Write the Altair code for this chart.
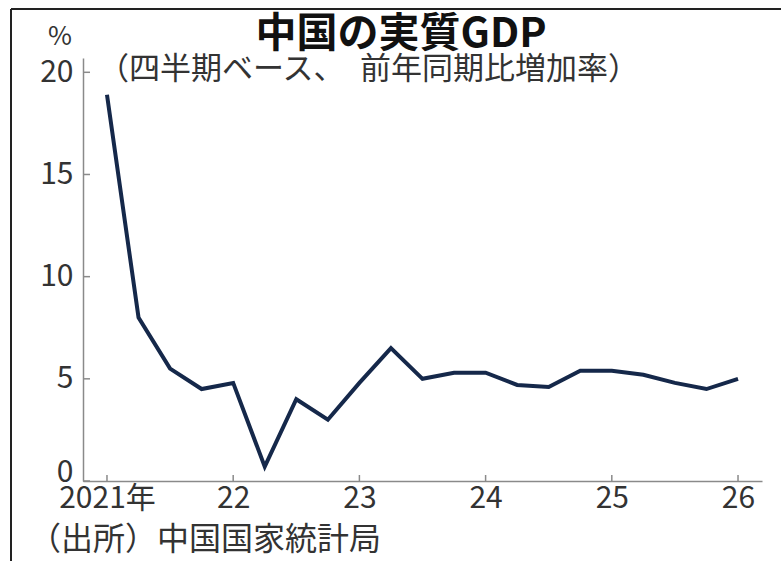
import altair as alt
import pandas as pd

# ---- data ----
quarters = ["2021Q1", "2021Q2", "2021Q3", "2021Q4",
            "2022Q1", "2022Q2", "2022Q3", "2022Q4",
            "2023Q1", "2023Q2", "2023Q3", "2023Q4",
            "2024Q1", "2024Q2", "2024Q3", "2024Q4",
            "2025Q1", "2025Q2", "2025Q3", "2025Q4",
            "2026Q1"]
growth = [18.9, 8.0, 5.5, 4.5,
          4.8, 0.7, 4.0, 3.0,
          4.8, 6.5, 5.0, 5.3,
          5.3, 4.7, 4.6, 5.4,
          5.4, 5.2, 4.8, 4.5,
          5.0]
x_ticks = [2021, 2022, 2023, 2024, 2025, 2026]
y_ticks = [0, 5, 10, 15, 20]

TITLE = "中国の実質GDP"
SUBTITLE = "（四半期ベース、　前年同期比増加率）"
UNIT = "%"
SOURCE = "（出所）中国国家統計局"

df = pd.DataFrame({"quarter": quarters, "growth": growth})
df["t"] = df["quarter"].str[:4].astype(int) + (df["quarter"].str[-1].astype(int) - 1) / 4

FONT = "Noto Sans CJK JP"
W, H = 679, 423
AXIS_COLOR = "#8a8a8a"
LABEL_COLOR = "#333333"

xs = alt.Scale(domain=[2020.81, 2026.19], nice=False, zero=False)
ys = alt.Scale(domain=[0, 20.7], nice=False)

line = alt.Chart(df).mark_line(color="#15284a", strokeWidth=4).encode(
    x=alt.X("t:Q", scale=xs, title=None,
            axis=alt.Axis(values=x_ticks, ticks=False, grid=False,
                          labelExpr="datum.value == 2021 ? '2021年' : substring(toString(datum.value), 2)",
                          domainColor=AXIS_COLOR, domainWidth=1.5,
                          labelFont=FONT, labelFontSize=30, labelColor=LABEL_COLOR,
                          labelPadding=2)),
    y=alt.Y("growth:Q", scale=ys, title=None,
            axis=alt.Axis(values=y_ticks, ticks=False, grid=False,
                          domainColor=AXIS_COLOR, domainWidth=1.5,
                          labelFont=FONT, labelFontSize=30, labelColor=LABEL_COLOR,
                          labelPadding=10, labelFlush=True, labelFlushOffset=6)),
)

xtick_rules = alt.Chart(pd.DataFrame({"t": x_ticks})).mark_rule(
    color=AXIS_COLOR, strokeWidth=1.5).encode(
    x=alt.X("t:Q", scale=xs), y=alt.value(H - 6), y2=alt.value(H))

ytick_rules = alt.Chart(pd.DataFrame({"growth": y_ticks})).mark_rule(
    color=AXIS_COLOR, strokeWidth=1.5).encode(
    y=alt.Y("growth:Q", scale=ys), x=alt.value(0), x2=alt.value(7))

one = pd.DataFrame({"a": [0]})


def label(text, x, y, size, align="left", weight="normal", color=LABEL_COLOR):
    return alt.Chart(one).mark_text(
        text=text, font=FONT, fontSize=size, fontWeight=weight, color=color,
        align=align, baseline="middle").encode(x=alt.value(x), y=alt.value(y))


title = label(TITLE, 318, -23, 41, align="center", weight="bold", color="#111111")
subtitle = label(SUBTITLE, 15, 12, 31)
unit = label(UNIT, -23, -21, 26, align="center")
source = label(SOURCE, -54, 482, 32)

frame_left = alt.Chart(one).mark_rule(color="#222222", strokeWidth=2).encode(
    x=alt.value(-72), y=alt.value(-49), y2=alt.value(503))
frame_top = alt.Chart(one).mark_rule(color="#222222", strokeWidth=2).encode(
    x=alt.value(-72), x2=alt.value(698), y=alt.value(-49))

chart = alt.layer(
    frame_left, frame_top, xtick_rules, ytick_rules, line,
    title, subtitle, unit, source
).properties(
    width=W, height=H,
    autosize=alt.AutoSizeParams(type="none"),
    padding={"left": 83, "top": 58, "right": 19, "bottom": 80},
    background="white",
).configure_view(stroke=None)

chart.save("out.html", embed_options={"renderer": "svg", "actions": False})
